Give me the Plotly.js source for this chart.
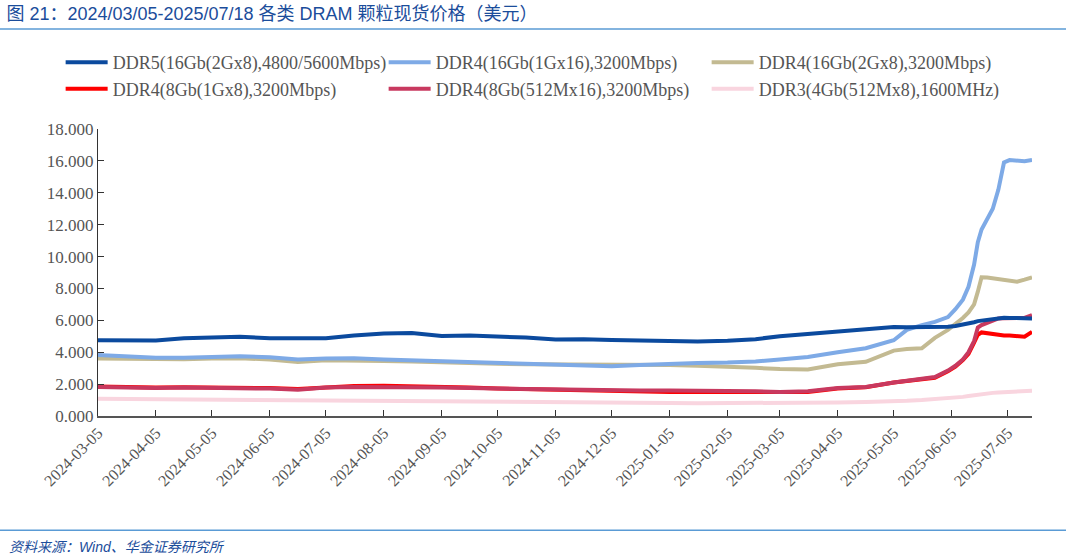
<!DOCTYPE html>
<html>
<head>
<meta charset="utf-8">
<script src="https://cdn.plot.ly/plotly-3.0.1.min.js"></script>
<style>
    body { margin: 0; background: #ffffff; }
    #chart { width: 1066px; height: 559px; }
</style>
</head>
<body>
<div id="chart"></div>
<script>
"use strict";

var dates = [
    "2024-03-05", "2024-03-20", "2024-04-05", "2024-04-20", "2024-05-05", "2024-05-20",
    "2024-06-05", "2024-06-20", "2024-07-05", "2024-07-20", "2024-08-05", "2024-08-20",
    "2024-09-05", "2024-09-20", "2024-10-05", "2024-10-20", "2024-11-05", "2024-11-20",
    "2024-12-05", "2024-12-20", "2025-01-05", "2025-01-20", "2025-02-05", "2025-02-20",
    "2025-03-05", "2025-03-20", "2025-04-05", "2025-04-20", "2025-05-05", "2025-05-12",
    "2025-05-20", "2025-05-27", "2025-06-03", "2025-06-07", "2025-06-11", "2025-06-14",
    "2025-06-17", "2025-06-19", "2025-06-21", "2025-06-24", "2025-06-27", "2025-06-30",
    "2025-07-03", "2025-07-06", "2025-07-10", "2025-07-14", "2025-07-18"
];

var ddr5_16Gb = [
    4.75, 4.72, 4.73, 4.88, 4.95, 4.97, 4.87, 4.85, 4.88, 5.05, 5.18, 5.20,
    5.02, 5.05, 5.00, 4.92, 4.80, 4.82, 4.77, 4.72, 4.70, 4.67, 4.72, 4.82,
    5.00, 5.15, 5.30, 5.45, 5.58, 5.57, 5.56, 5.58, 5.60, 5.65, 5.72, 5.80,
    5.88, 5.95, 5.98, 6.05, 6.10, 6.15, 6.16, 6.15, 6.12, 6.10, 6.12
];
var ddr4_16Gb_1Gx16 = [
    3.82, 3.72, 3.65, 3.66, 3.72, 3.75, 3.68, 3.55, 3.60, 3.62, 3.55, 3.50,
    3.42, 3.35, 3.30, 3.25, 3.20, 3.15, 3.12, 3.20, 3.28, 3.32, 3.35, 3.42,
    3.55, 3.70, 4.00, 4.25, 4.75, 5.40, 5.70, 5.90, 6.20, 6.70, 7.30, 8.10,
    9.50, 10.90, 11.70, 12.30, 13.00, 14.20, 15.90, 16.05, 16.02, 15.98, 16.05
];
var ddr4_16Gb_2Gx8 = [
    3.60, 3.57, 3.55, 3.56, 3.60, 3.62, 3.55, 3.38, 3.50, 3.50, 3.45, 3.42,
    3.35, 3.30, 3.28, 3.25, 3.25, 3.22, 3.22, 3.22, 3.20, 3.15, 3.10, 3.02,
    2.95, 2.92, 3.25, 3.40, 4.10, 4.20, 4.25, 4.90, 5.40, 5.75, 6.15, 6.50,
    7.00, 7.80, 8.70, 8.68, 8.62, 8.60, 8.50, 8.45, 8.42, 8.55, 8.70
];
var ddr4_8Gb_1Gx8 = [
    1.85, 1.80, 1.78, 1.80, 1.80, 1.78, 1.75, 1.70, 1.82, 1.88, 1.90, 1.88,
    1.82, 1.78, 1.72, 1.68, 1.65, 1.62, 1.55, 1.50, 1.50, 1.50, 1.50, 1.48,
    1.45, 1.50, 1.72, 1.80, 2.10, 2.20, 2.30, 2.40, 2.80, 3.10, 3.50, 3.90,
    4.60, 5.10, 5.24, 5.18, 5.12, 5.10, 5.05, 5.05, 5.00, 4.97, 5.28
];
var ddr4_8Gb_512Mx16 = [
    1.82, 1.78, 1.75, 1.78, 1.78, 1.75, 1.72, 1.65, 1.78, 1.82, 1.82, 1.82,
    1.78, 1.75, 1.72, 1.68, 1.66, 1.64, 1.62, 1.60, 1.60, 1.60, 1.60, 1.55,
    1.50, 1.55, 1.75, 1.82, 2.10, 2.20, 2.35, 2.45, 2.85, 3.15, 3.55, 4.00,
    4.70, 5.55, 5.70, 5.82, 5.95, 6.12, 6.13, 6.12, 6.13, 6.15, 6.33
];
var ddr3_4Gb = [
    1.08, 1.07, 1.05, 1.05, 1.03, 1.02, 1.00, 0.97, 0.97, 0.96, 0.95, 0.93,
    0.90, 0.90, 0.88, 0.87, 0.86, 0.85, 0.84, 0.83, 0.82, 0.80, 0.80, 0.80,
    0.80, 0.82, 0.85, 0.88, 0.90, 0.95, 1.00, 1.05, 1.10, 1.15, 1.20, 1.25,
    1.30, 1.35, 1.40, 1.42, 1.45, 1.48, 1.50, 1.52, 1.53, 1.55, 1.58
];

var seriesNames = [
    "DDR5(16Gb(2Gx8),4800/5600Mbps)",
    "DDR4(16Gb(1Gx16),3200Mbps)",
    "DDR4(16Gb(2Gx8),3200Mbps)",
    "DDR4(8Gb(1Gx8),3200Mbps)",
    "DDR4(8Gb(512Mx16),3200Mbps)",
    "DDR3(4Gb(512Mx8),1600MHz)"
];

var tickDates = [
    "2024-03-05", "2024-04-05", "2024-05-05", "2024-06-05", "2024-07-05", "2024-08-05",
    "2024-09-05", "2024-10-05", "2024-11-05", "2024-12-05", "2025-01-05", "2025-02-05",
    "2025-03-05", "2025-04-05", "2025-05-05", "2025-06-05", "2025-07-05"
];

var seriesValues = [ddr5_16Gb, ddr4_16Gb_1Gx16, ddr4_16Gb_2Gx8, ddr4_8Gb_1Gx8, ddr4_8Gb_512Mx16, ddr3_4Gb];
var seriesColors = ["#0b4a9e", "#7eaae6", "#c3ba92", "#ff0000", "#c8395f", "#f9d5df"];

// draw order: back to front, legend keeps the original order
var drawOrder = [5, 2, 1, 3, 4, 0];

var data = [];
for (var i = 0; i < drawOrder.length; i++) {
    var k = drawOrder[i];
    data.push({
        x: dates,
        y: seriesValues[k],
        type: "scatter",
        mode: "lines",
        name: seriesNames[k],
        legendrank: k + 1,
        line: { color: seriesColors[k], width: 4 },
        hoverinfo: "x+y+name"
    });
}

var serif = "Liberation Serif, Times New Roman, serif";
var cjk = "Liberation Sans, Noto Sans CJK SC, sans-serif";

var layout = {
    width: 1066,
    height: 559,
    margin: { l: 98, r: 34, t: 129, b: 143 },
    paper_bgcolor: "#ffffff",
    plot_bgcolor: "#ffffff",
    showlegend: true,
    title: {
        text: "图 21：2024/03/05-2025/07/18 各类 DRAM 颗粒现货价格（美元）",
        font: { family: cjk, size: 18, color: "#1b4d9b" },
        x: 0.006, xanchor: "left", xref: "container",
        y: 0.975, yanchor: "middle", yref: "container",
        automargin: false
    },
    legend: {
        orientation: "h",
        x: -0.04, xanchor: "left",
        y: 1.296, yanchor: "top",
        entrywidth: 266, entrywidthmode: "pixels",
        itemwidth: 42,
        font: { family: serif, size: 18, color: "#555555" },
        traceorder: "normal",
        bgcolor: "rgba(0,0,0,0)"
    },
    xaxis: {
        type: "date",
        range: ["2024-03-05", "2025-07-18"],
        tickvals: tickDates,
        ticktext: tickDates,
        tickangle: -45,
        ticks: "inside",
        ticklen: 6,
        tickcolor: "#333333",
        showline: true,
        linecolor: "#555555",
        linewidth: 1.5,
        showgrid: false,
        zeroline: false,
        tickfont: { family: serif, size: 16, color: "#555555" }
    },
    yaxis: {
        range: [0, 18],
        dtick: 2,
        tick0: 0,
        tickformat: ".3f",
        ticks: "inside",
        ticklen: 6,
        tickcolor: "#333333",
        showline: true,
        linecolor: "#333333",
        linewidth: 1,
        showgrid: false,
        zeroline: false,
        tickfont: { family: serif, size: 17, color: "#555555" }
    },
    shapes: [
        { type: "line", xref: "paper", yref: "paper", x0: -0.105, x1: 1.037, y0: 1.348, y1: 1.348,
          line: { color: "#5a9bd5", width: 1.5 } },
        { type: "line", xref: "paper", yref: "paper", x0: -0.105, x1: 1.037, y0: -0.398, y1: -0.398,
          line: { color: "#5a9bd5", width: 1.5 } }
    ],
    annotations: [
        {
            text: "<i>资料来源：Wind、华金证券研究所</i>",
            xref: "paper", yref: "paper",
            x: -0.097, xanchor: "left",
            y: -0.455, yanchor: "middle",
            showarrow: false,
            font: { family: cjk, size: 14, color: "#1b4d9b" }
        }
    ]
};

Plotly.newPlot("chart", data, layout, { displayModeBar: false, staticPlot: true });
</script>
</body>
</html>
